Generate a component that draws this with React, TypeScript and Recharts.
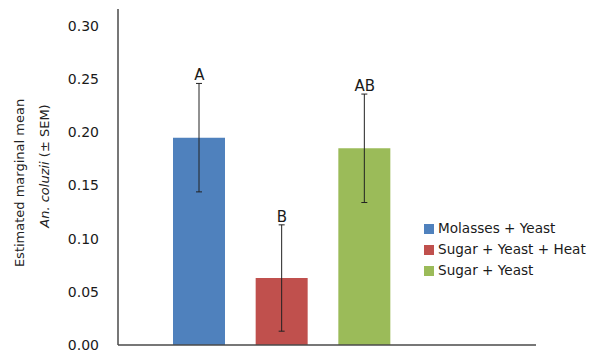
import {
  ComposedChart,
  Bar,
  Cell,
  ErrorBar,
  Line,
  LabelList,
  XAxis,
  YAxis,
  Legend,
} from "recharts";

// Estimated marginal means per bait treatment, with SEM and Tukey groups.
const treatments = ["Molasses + Yeast", "Sugar + Yeast + Heat", "Sugar + Yeast"];
const means = [0.195, 0.063, 0.185];
const sems = [0.051, 0.05, 0.051];
const groups = ["A", "B", "AB"];
const colors = ["#4F81BD", "#C0504D", "#9BBB59"];
const yTicks = [0, 0.05, 0.1, 0.15, 0.2, 0.25, 0.3];

const FONT = "'DejaVu Sans', sans-serif";
const AXIS = "#4a4a4a";

const data = treatments.map((name, i) => ({
  name,
  mean: means[i],
  sem: sems[i],
  upper: means[i] + sems[i],
  group: groups[i],
}));

function AxisTitle(props: any) {
  const vb = props.viewBox ?? { x: 0, y: 0, width: 0, height: 0 };
  const cy = vb.y + vb.height / 2;
  const x1 = vb.x + 19;
  const x2 = vb.x + 44;
  return (
    <g fontFamily={FONT} fontSize={13} fill="#222">
      <text
        x={x1}
        y={cy + 6}
        textAnchor="middle"
        dominantBaseline="central"
        transform={`rotate(-90 ${x1} ${cy + 6})`}
      >
        Estimated marginal mean
      </text>
      <text
        x={x2}
        y={cy - 11}
        textAnchor="middle"
        dominantBaseline="central"
        transform={`rotate(-90 ${x2} ${cy - 11})`}
      >
        <tspan fontStyle="italic">An. coluzii</tspan>
        <tspan> (± SEM)</tspan>
      </text>
    </g>
  );
}

function TreatmentLegend() {
  return (
    <div style={{ fontFamily: FONT, fontSize: 13.6, color: "#1a1a1a", lineHeight: "21px" }}>
      {treatments.map((t, i) => (
        <div key={t} style={{ display: "flex", alignItems: "center", whiteSpace: "nowrap" }}>
          <span
            style={{
              display: "inline-block",
              width: 10,
              height: 10,
              background: colors[i],
              marginRight: 4,
            }}
          />
          {t}
        </div>
      ))}
    </div>
  );
}

export default function App() {
  return (
    <div style={{ position: "absolute", left: 0, top: 0, width: 592, height: 352, background: "#fff" }}>
      <ComposedChart
        width={592}
        height={352}
        data={data}
        margin={{ top: 9, right: 56, bottom: 6, left: 0 }}
      >
        <XAxis
          dataKey="name"
          tick={false}
          tickLine={false}
          height={1}
          padding={{ left: 40, right: 130 }}
          axisLine={{ stroke: AXIS, strokeWidth: 1.5 }}
        />
        <YAxis
          width={118}
          domain={[0, 0.316]}
          ticks={yTicks}
          interval={0}
          allowDataOverflow
          tickFormatter={(v: number) => v.toFixed(2)}
          tickLine={false}
          tickMargin={13}
          axisLine={{ stroke: AXIS, strokeWidth: 1.5 }}
          tick={{ fill: "#1a1a1a", fontSize: 14, fontFamily: FONT }}
          label={(p: any) => <AxisTitle {...p} />}
        />
        <Legend
          verticalAlign="middle"
          align="center"
          layout="horizontal"
          content={() => <TreatmentLegend />}
          wrapperStyle={{ left: 424, top: 218, width: 168 }}
        />
        <Bar dataKey="mean" barSize={52} isAnimationActive={false}>
          {data.map((d, i) => (
            <Cell key={d.name} fill={colors[i]} />
          ))}
          <ErrorBar dataKey="sem" width={3} stroke="#222" strokeWidth={1} />
        </Bar>
        <Line
          dataKey="upper"
          stroke="none"
          dot={false}
          activeDot={false}
          isAnimationActive={false}
        >
          <LabelList
            dataKey="group"
            position="top"
            offset={3}
            fill="#1a1a1a"
            fontSize={15}
            fontFamily={FONT}
          />
        </Line>
      </ComposedChart>
    </div>
  );
}
